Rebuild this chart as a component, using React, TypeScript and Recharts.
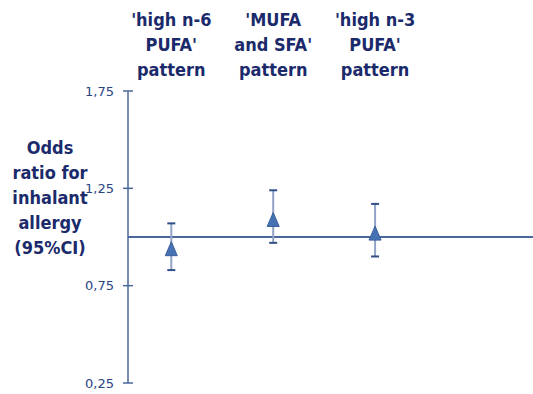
import React from "react";
import {
  ComposedChart,
  Scatter,
  XAxis,
  YAxis,
  ReferenceLine,
  ErrorBar,
} from "recharts";

// pattern labels, one line per entry
const patterns = [
  ["'high n-6", "PUFA'", "pattern"],
  ["'MUFA", "and SFA'", "pattern"],
  ["'high n-3", "PUFA'", "pattern"],
];
const patternPos = [1, 2, 3];
const oddsRatio = [0.94, 1.09, 1.02];
const ciLow = [0.83, 0.97, 0.9];
const ciHigh = [1.07, 1.24, 1.17];
const yTicks = [0.25, 0.75, 1.25, 1.75];
const yLabelLines = ["Odds", "ratio for", "inhalant", "allergy", "(95%CI)"];

const NAVY = "#1b2a6b";
const AXIS = "#4a679b";
const FONT = "'DejaVu Sans', Verdana, sans-serif";
const BOLD_FONT = "'DejaVu Sans Condensed', 'DejaVu Sans', sans-serif";

const points = patternPos.map((x, i) => ({
  x,
  or: oddsRatio[i],
  err: [oddsRatio[i] - ciLow[i], ciHigh[i] - oddsRatio[i]],
}));
const lows = patternPos.map((x, i) => ({ x, v: ciLow[i] }));
const highs = patternPos.map((x, i) => ({ x, v: ciHigh[i] }));

function Triangle(props: any) {
  const { cx, cy } = props;
  return (
    <polygon
      points={`${cx},${cy - 7} ${cx + 6},${cy + 7} ${cx - 6},${cy + 7}`}
      fill="#4672b4"
      stroke="#3a5f9c"
      strokeWidth={1}
    />
  );
}

function Cap(props: any) {
  const { cx, cy } = props;
  return <line x1={cx - 4} x2={cx + 4} y1={cy} y2={cy} stroke="#2f4f87" strokeWidth={2} />;
}

function PatternTick(props: any) {
  const { x, y, payload } = props;
  const lines = patterns[patternPos.indexOf(payload.value)] || [];
  return (
    <text
      x={x}
      textAnchor="middle"
      fill={NAVY}
      fontFamily={BOLD_FONT}
      fontWeight="bold"
      fontSize={18}
    >
      {lines.map((l, i) => (
        <tspan key={i} x={x} y={y - 65 + i * 25}>
          {l}
        </tspan>
      ))}
    </text>
  );
}

function OrTick(props: any) {
  const { x, y, payload } = props;
  return (
    <g>
      <line x1={x + 9} x2={x + 19} y1={y} y2={y} stroke={AXIS} strokeWidth={1.5} />
      <text
        x={x}
        y={y}
        dy={4.5}
        textAnchor="end"
        fill="#2a4482"
        fontFamily={FONT}
        fontSize={13}
      >
        {String(payload.value.toFixed(2)).replace(".", ",")}
      </text>
    </g>
  );
}

function YLabel(props: any) {
  const { viewBox } = props;
  const cx = viewBox.x + 50;
  return (
    <text
      textAnchor="middle"
      fill={NAVY}
      fontFamily={BOLD_FONT}
      fontWeight="bold"
      fontSize={18}
    >
      {yLabelLines.map((l, i) => (
        <tspan key={i} x={cx} y={viewBox.y + 63 + i * 25}>
          {l}
        </tspan>
      ))}
    </text>
  );
}

export default function App() {
  return (
    <div style={{ position: "absolute", left: 0, top: 0, background: "#fff" }}>
      <ComposedChart
        width={533}
        height={394}
        margin={{ top: 0, right: 0, bottom: 11, left: 0 }}
      >
        <XAxis
          xAxisId="top"
          dataKey="x"
          type="number"
          orientation="top"
          domain={[0.575, 4.55]}
          ticks={patternPos}
          height={91}
          axisLine={false}
          tickLine={false}
          tickSize={0}
          tickMargin={0}
          tick={<PatternTick />}
          allowDataOverflow
        />
        <YAxis
          type="number"
          domain={[0.25, 1.75]}
          ticks={yTicks}
          width={128}
          axisLine={{ stroke: AXIS, strokeWidth: 1.5 }}
          tickLine={false}
          tickSize={0}
          tickMargin={14}
          tick={<OrTick />}
          interval={0}
          label={<YLabel />}
          allowDataOverflow
        />
        <ReferenceLine xAxisId="top" y={1} stroke={AXIS} strokeWidth={2} />
        <Scatter
          xAxisId="top"
          data={points}
          dataKey="or"
          shape={<Triangle />}
          isAnimationActive={false}
        >
          <ErrorBar
            dataKey="err"
            direction="y"
            width={0}
            stroke="#92a3c6"
            strokeWidth={2}
            isAnimationActive={false}
          />
        </Scatter>
        <Scatter
          xAxisId="top"
          data={lows}
          dataKey="v"
          shape={<Cap />}
          isAnimationActive={false}
        />
        <Scatter
          xAxisId="top"
          data={highs}
          dataKey="v"
          shape={<Cap />}
          isAnimationActive={false}
        />
      </ComposedChart>
    </div>
  );
}
